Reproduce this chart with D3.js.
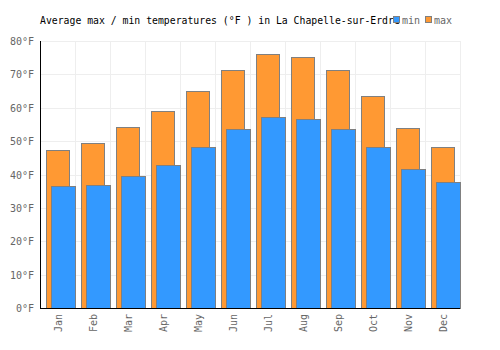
<!DOCTYPE html>
<html>
<head>
<meta charset="utf-8">
<script src="https://cdn.jsdelivr.net/npm/d3@7"></script>
<style>
  body { margin: 0; background: #fff; }
  text { font-family: "DejaVu Sans Mono", monospace; }
</style>
</head>
<body>
<div id="chart"></div>
<script>
const months = ["Jan", "Feb", "Mar", "Apr", "May", "Jun", "Jul", "Aug", "Sep", "Oct", "Nov", "Dec"];
const maxTemps = [47.2, 49.3, 54.1, 58.9, 64.9, 71.4, 76.0, 75.2, 71.2, 63.4, 53.8, 48.1];
const minTemps = [36.6, 37.0, 39.5, 42.8, 48.1, 53.5, 57.1, 56.5, 53.5, 48.1, 41.6, 37.7];
const yTicks = [0, 10, 20, 30, 40, 50, 60, 70, 80];

const width = 500, height = 350;
const margin = { top: 41, right: 40, bottom: 42, left: 40 };
const plotW = width - margin.left - margin.right,
      plotH = height - margin.top - margin.bottom;

const svg = d3.select("#chart")
  .append("svg")
  .attr("width", width)
  .attr("height", height);

const g = svg.append("g")
  .attr("transform", `translate(${margin.left},${margin.top})`);

const x = d3.scaleBand()
  .domain(months)
  .range([0, plotW]);

const y = d3.scaleLinear()
  .domain([0, 80])
  .range([plotH, 0]);

// grid
g.selectAll(".hgrid")
  .data(yTicks)
  .enter()
  .append("line")
  .attr("x1", 0)
  .attr("x2", plotW)
  .attr("y1", d => Math.round(y(d)) + 0.5)
  .attr("y2", d => Math.round(y(d)) + 0.5)
  .attr("stroke", "#eeeeee");

g.selectAll(".vgrid")
  .data(months)
  .enter()
  .append("line")
  .attr("x1", d => Math.round(x(d) + x.bandwidth()) + 0.5)
  .attr("x2", d => Math.round(x(d) + x.bandwidth()) + 0.5)
  .attr("y1", 0)
  .attr("y2", plotH)
  .attr("stroke", "#eeeeee");

// max bars
g.selectAll(".maxbar")
  .data(months)
  .enter()
  .append("rect")
  .attr("x", d => Math.round(x(d)) + 6.5)
  .attr("y", (d, i) => Math.round(y(maxTemps[i])) + 0.5)
  .attr("width", 23)
  .attr("height", (d, i) => plotH - Math.round(y(maxTemps[i])))
  .attr("fill", "#ff9933")
  .attr("stroke", "#808080")
  .attr("stroke-width", 1);

// min bars
g.selectAll(".minbar")
  .data(months)
  .enter()
  .append("rect")
  .attr("x", d => Math.round(x(d)) + 11.5)
  .attr("y", (d, i) => Math.round(y(minTemps[i])) + 0.5)
  .attr("width", 24)
  .attr("height", (d, i) => plotH - Math.round(y(minTemps[i])))
  .attr("fill", "#3399ff")
  .attr("stroke", "#808080")
  .attr("stroke-width", 1);

// axes lines
g.append("line")
  .attr("x1", 0.5).attr("x2", 0.5)
  .attr("y1", 0).attr("y2", plotH + 0.5)
  .attr("stroke", "#000");
g.append("line")
  .attr("x1", 0).attr("x2", plotW)
  .attr("y1", plotH + 0.5).attr("y2", plotH + 0.5)
  .attr("stroke", "#000");

// y tick labels
g.selectAll(".ylabel")
  .data(yTicks)
  .enter()
  .append("text")
  .attr("x", -6)
  .attr("y", d => y(d) + 4)
  .attr("text-anchor", "end")
  .attr("font-size", "10px")
  .attr("fill", "#666")
  .text(d => `${d}°F`);

// x tick labels
g.selectAll(".xlabel")
  .data(months)
  .enter()
  .append("text")
  .attr("transform", d => `translate(${x(d) + x.bandwidth() / 2 + 4},${plotH + 6}) rotate(-90)`)
  .attr("text-anchor", "end")
  .attr("font-size", "10px")
  .attr("fill", "#666")
  .text(d => d);

// title
svg.append("text")
  .attr("x", 40)
  .attr("y", 24)
  .attr("font-size", "9.8px")
  .attr("fill", "#000")
  .text("Average max / min temperatures (°F ) in La Chapelle-sur-Erdre");

// legend
const legend = [
  { name: "min", color: "#3399ff", x: 393 },
  { name: "max", color: "#ff9933", x: 425 }
];
legend.forEach(l => {
  svg.append("rect")
    .attr("x", l.x + 0.5)
    .attr("y", 16.5)
    .attr("width", 6)
    .attr("height", 6)
    .attr("fill", l.color)
    .attr("stroke", "#808080");
  svg.append("text")
    .attr("x", l.x + 9)
    .attr("y", 24)
    .attr("font-size", "10px")
    .attr("fill", "#666")
    .text(l.name);
});
</script>
</body>
</html>
